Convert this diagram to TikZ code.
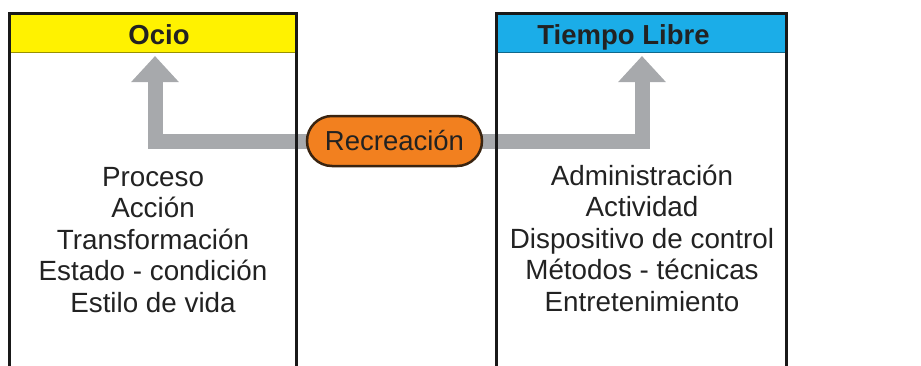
\documentclass[tikz,border=0pt]{standalone}
\usepackage{fontspec}
\setmainfont{Liberation Sans}
\usetikzlibrary{positioning, arrows.meta, backgrounds}

\definecolor{ocioyellow}{HTML}{FFF200}
\definecolor{libreblue}{HTML}{1BADE8}
\definecolor{recorange}{HTML}{F2801F}
\definecolor{recborder}{HTML}{3A2410}
\definecolor{flowgray}{HTML}{A7A9AC}
\definecolor{textdark}{HTML}{222222}

\begin{document}
\begin{tikzpicture}[
    x=1pt, y=-1pt,
    every node/.style={inner sep=0pt, text=textdark},
    header/.style={minimum width=287pt, minimum height=39pt, anchor=north west},
    title/.style={font=\fontsize{27.5}{30}\selectfont\bfseries, anchor=base},
    items/.style={font=\fontsize{27.8}{31.5}\selectfont, align=center},
    frame/.style={line width=3pt, draw=black!90},
    recnode/.style={fill=recorange, draw=recborder, line width=2.5pt, minimum width=175pt, minimum height=50pt, rounded corners=25pt, font=\fontsize{27.5}{30}\selectfont},
    flow/.style={draw=flowgray, line width=15pt, -{Triangle[length=26pt, width=46pt]}}
]
\useasboundingbox (0,0) rectangle (921,365);

% Ocio
\node[header, fill=ocioyellow] (ociohead) at (9,13) {};
\node[title] (ocio) at (159,44) {Ocio};
\node[items] (ociolist) at (153,240) {Proceso\\Acción\\Transformación\\Estado - condición\\Estilo de vida};
\coordinate (ociotip) at (155,56);

% Tiempo Libre
\node[header, fill=libreblue, minimum width=290pt] (librehead) at (496,13) {};
\node[title] (libre) at (623.5,44) {Tiempo Libre};
\node[items] (librelist) at (642,238) {Administración\\Actividad\\Dispositivo de control\\Métodos - técnicas\\Entretenimiento};
\coordinate (libretip) at (642,56);

% Recreación
\node[recnode] (rec) at (394.5,141) {Recreación};

% Flows
\begin{scope}[on background layer]
    \draw[flow] (rec.center) -| (ociotip);
    \draw[flow] (rec.center) -| (libretip);
\end{scope}

% Frames
\draw[thin, ocioyellow!60!black] (ociohead.south west) -- (ociohead.south east);
\draw[thin, libreblue!60!black] (librehead.south west) -- (librehead.south east);
\draw[frame] (ociohead.north west |- 0,366) -- (ociohead.north west) -- (ociohead.north east) -- (ociohead.north east |- 0,366);
\draw[frame] (librehead.north west |- 0,366) -- (librehead.north west) -- (librehead.north east) -- (librehead.north east |- 0,366);

\end{tikzpicture}
\end{document}
